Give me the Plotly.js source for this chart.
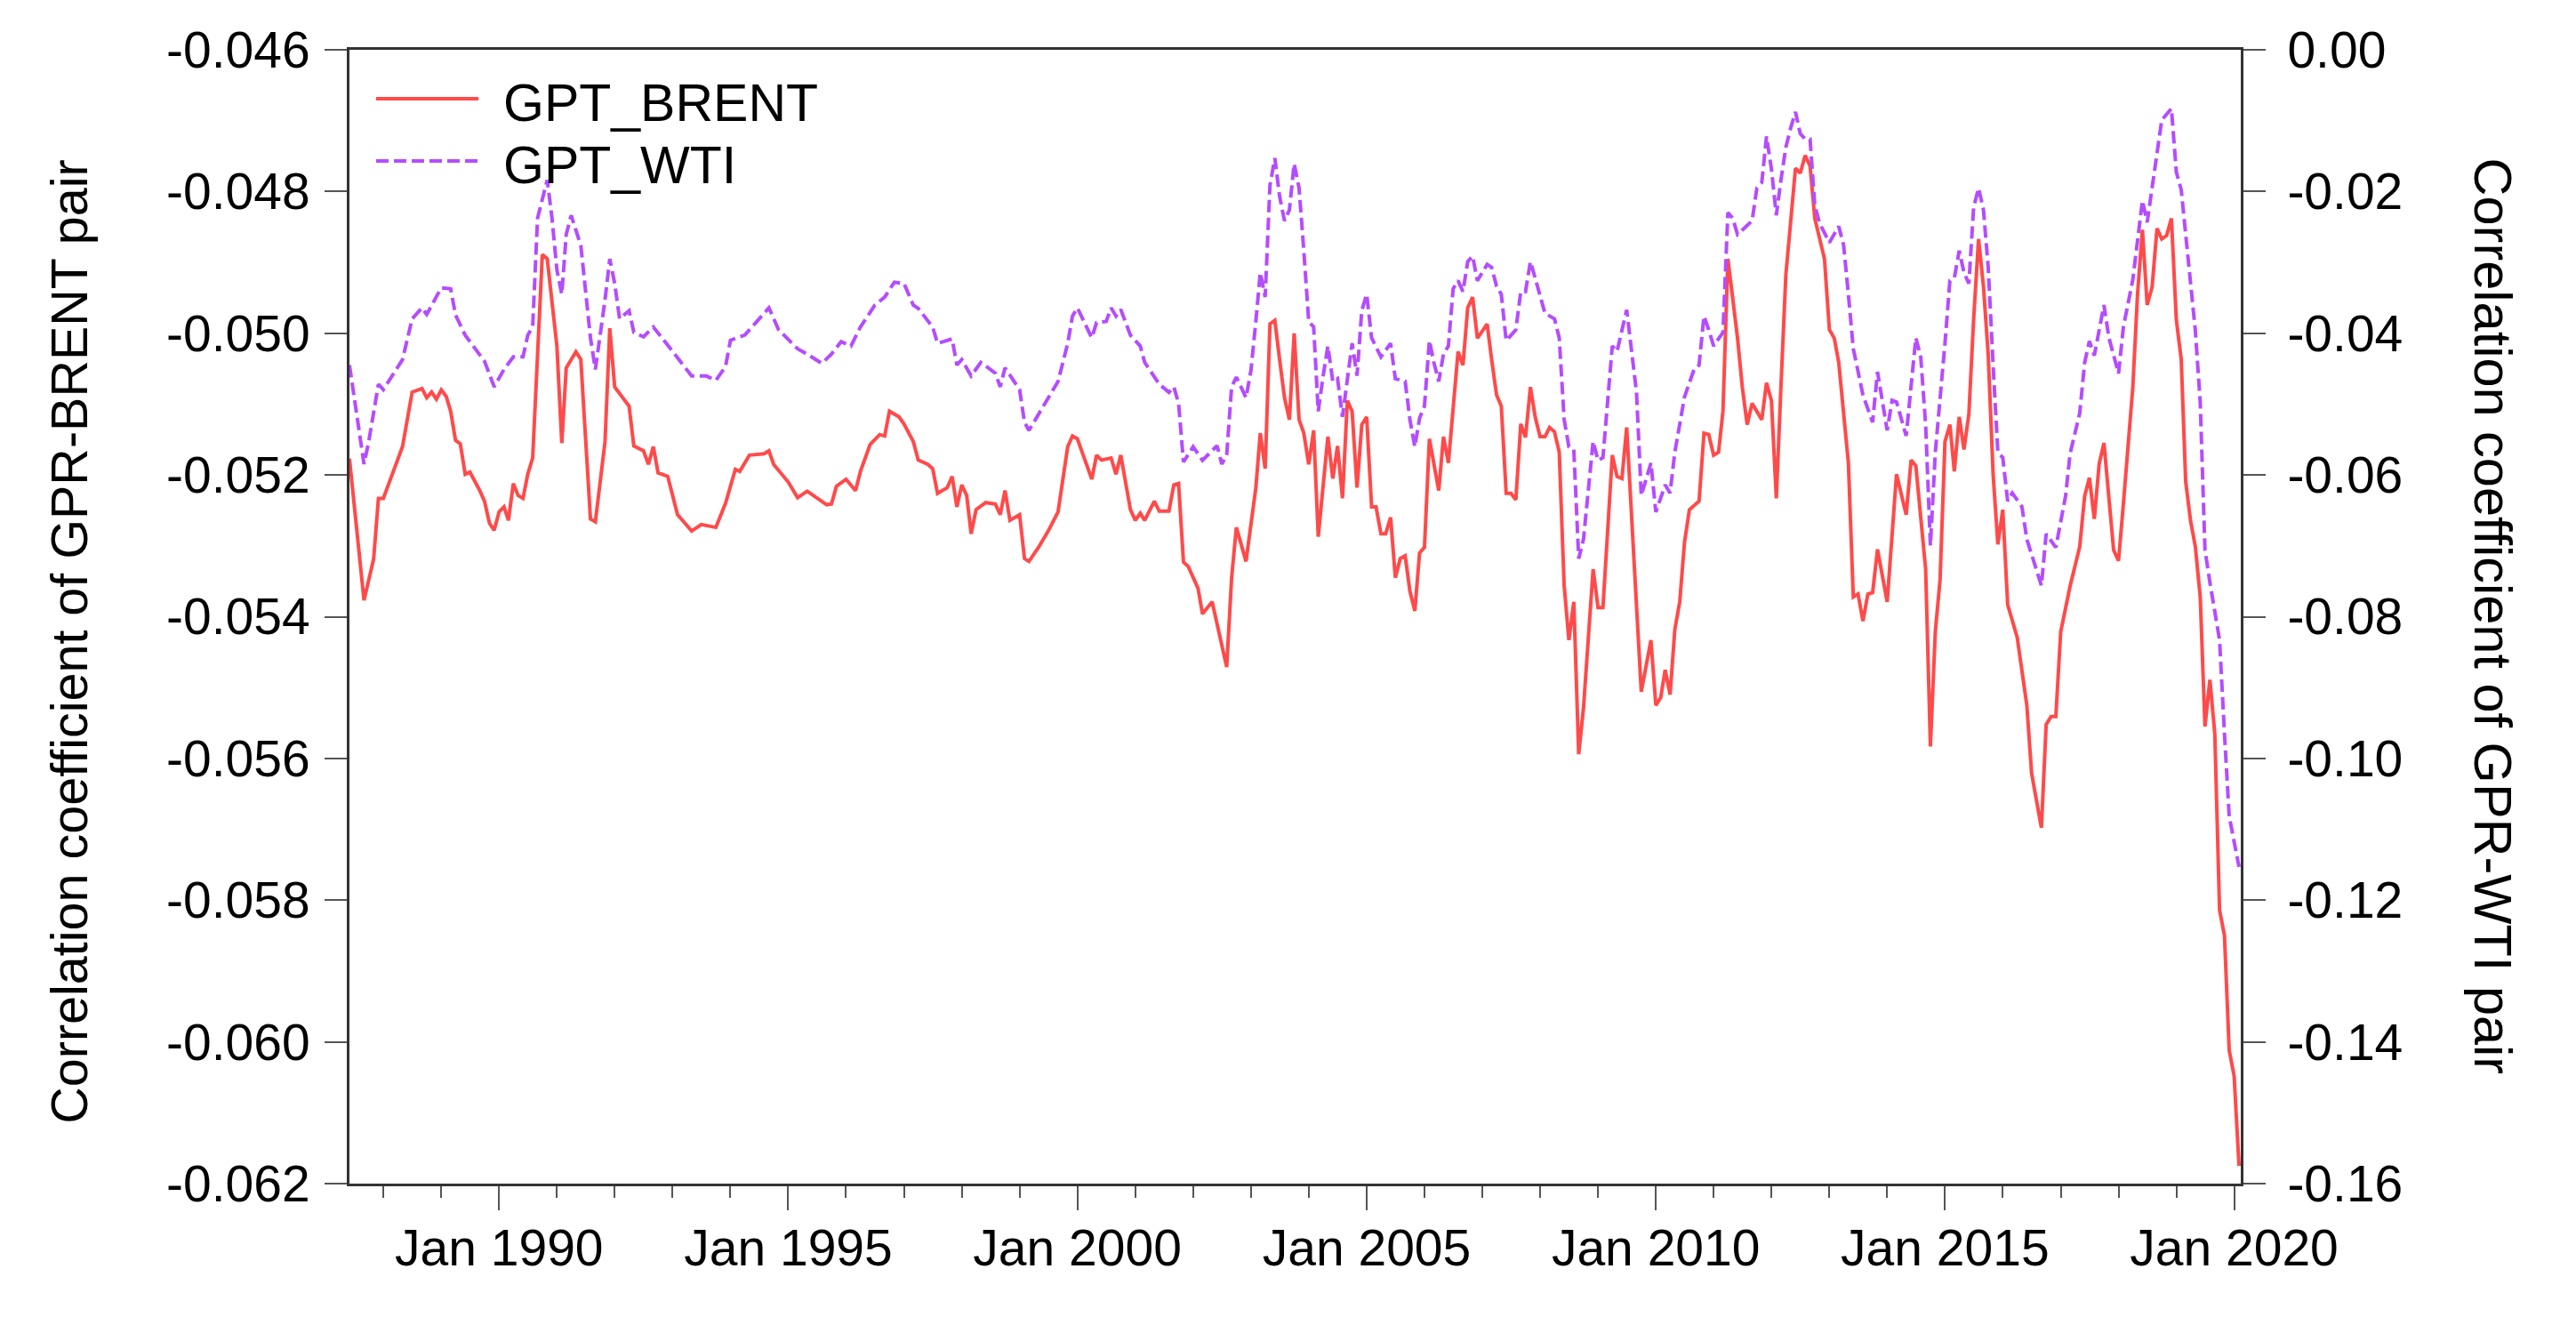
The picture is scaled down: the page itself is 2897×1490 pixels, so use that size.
<!DOCTYPE html>
<html>
<head>
<meta charset="utf-8">
<script src="https://cdn.plot.ly/plotly-3.0.1.min.js"></script>
<style>html,body{margin:0;padding:0;background:#fff;}#chart{width:2897px;height:1490px;}</style>
</head>
<body>
<div id="chart"></div>
<script>
// ---------- DATA ----------
const brentDates = [
'1987-06','1987-09','1987-11','1987-12',
'1988-01','1988-05','1988-07','1988-09','1988-10','1988-11','1988-12',
'1989-01','1989-02','1989-03','1989-04','1989-05','1989-06','1989-07','1989-09','1989-10','1989-11','1989-12',
'1990-01','1990-02','1990-03','1990-04','1990-05','1990-06','1990-07','1990-08','1990-10','1990-11',
'1991-01','1991-02','1991-03','1991-05','1991-06','1991-08','1991-09','1991-11','1991-12',
'1992-01','1992-04','1992-05','1992-07','1992-08','1992-09','1992-10','1992-12',
'1993-02','1993-05','1993-07','1993-10','1993-12',
'1994-02','1994-03','1994-05','1994-08','1994-09','1994-10',
'1995-01','1995-03','1995-05','1995-07','1995-09','1995-10','1995-11',
'1996-01','1996-03','1996-04','1996-06','1996-08','1996-09','1996-10','1996-12',
'1997-01','1997-03','1997-04','1997-06','1997-07','1997-08','1997-10','1997-11','1997-12',
'1998-01','1998-02','1998-03','1998-04','1998-06','1998-08','1998-09','1998-10','1998-11',
'1999-01','1999-02','1999-03','1999-05','1999-07','1999-09','1999-11','1999-12',
'2000-01','2000-04','2000-05','2000-06','2000-08','2000-09','2000-10','2000-12',
'2001-01','2001-02','2001-03','2001-05','2001-06','2001-08','2001-09','2001-10','2001-11','2001-12',
'2002-02','2002-03','2002-05','2002-07','2002-08','2002-09','2002-10','2002-12',
'2003-02','2003-03','2003-04','2003-05','2003-06','2003-07','2003-08','2003-09','2003-10','2003-11','2003-12',
'2004-01','2004-02','2004-03','2004-05','2004-06','2004-07','2004-08','2004-09','2004-10','2004-11','2004-12',
'2005-01','2005-02','2005-03','2005-04','2005-05','2005-06','2005-07','2005-08','2005-09','2005-10','2005-11','2005-12',
'2006-01','2006-02','2006-04','2006-05','2006-06','2006-08','2006-09','2006-10','2006-11','2006-12',
'2007-02','2007-03','2007-04','2007-05','2007-06','2007-07','2007-08','2007-09','2007-10','2007-11','2007-12',
'2008-01','2008-02','2008-03','2008-04','2008-05','2008-06','2008-07','2008-08','2008-09','2008-10','2008-12',
'2009-01','2009-02','2009-04','2009-05','2009-06','2009-07','2009-09','2009-10','2009-12',
'2010-01','2010-02','2010-03','2010-04','2010-05','2010-06','2010-07','2010-08','2010-10','2010-11','2010-12',
'2011-01','2011-02','2011-03','2011-04','2011-06','2011-07','2011-08','2011-09','2011-11','2011-12',
'2012-01','2012-02','2012-03','2012-04','2012-06','2012-07','2012-08','2012-09','2012-10','2012-12',
'2013-01','2013-02','2013-03','2013-05','2013-06','2013-07','2013-08','2013-09','2013-10','2013-11',
'2014-01','2014-02','2014-03','2014-05','2014-06','2014-07','2014-09','2014-10','2014-11','2014-12',
'2015-01','2015-02','2015-03','2015-04','2015-05','2015-06','2015-07','2015-08','2015-09','2015-10','2015-11','2015-12',
'2016-01','2016-02','2016-04','2016-06','2016-07','2016-09','2016-10','2016-11','2016-12',
'2017-01','2017-03','2017-05','2017-06','2017-07','2017-08','2017-09','2017-10','2017-12',
'2018-01','2018-02','2018-04','2018-05','2018-06','2018-07','2018-08','2018-09','2018-10','2018-11','2018-12',
'2019-01','2019-02','2019-03','2019-04','2019-05','2019-06','2019-07','2019-08','2019-09','2019-10','2019-11','2019-12',
'2020-01','2020-02'
];
const brentValues = [
-0.05177,-0.05377,-0.05318,-0.05233,
-0.05233,-0.05160,-0.05083,-0.05078,-0.05091,-0.05083,-0.05093,
-0.05080,-0.05089,-0.05110,-0.05151,-0.05156,-0.05199,-0.05196,-0.05222,-0.05237,-0.05268,-0.05278,
-0.05252,-0.05245,-0.05264,-0.05212,-0.05229,-0.05233,-0.05199,-0.05176,-0.04889,-0.04895,
-0.05018,-0.05155,-0.05049,-0.05026,-0.05037,-0.05262,-0.05266,-0.05153,-0.04993,
-0.05076,-0.05103,-0.05159,-0.05166,-0.05185,-0.05160,-0.05197,-0.05202,
-0.05256,-0.05279,-0.05270,-0.05274,-0.05240,
-0.05192,-0.05195,-0.05172,-0.05170,-0.05166,-0.05185,
-0.05210,-0.05232,-0.05223,-0.05233,-0.05242,-0.05241,-0.05216,
-0.05206,-0.05222,-0.05195,-0.05157,-0.05143,-0.05145,-0.05110,-0.05118,
-0.05128,-0.05153,-0.05179,-0.05185,-0.05191,-0.05226,-0.05218,-0.05202,-0.05245,
-0.05214,-0.05229,-0.05283,-0.05249,-0.05239,-0.05241,-0.05256,-0.05222,-0.05264,
-0.05256,-0.05318,-0.05322,-0.05302,-0.05279,-0.05252,-0.05160,-0.05145,
-0.05149,-0.05206,-0.05172,-0.05179,-0.05176,-0.05199,-0.05172,-0.05249,
-0.05264,-0.05254,-0.05264,-0.05237,-0.05251,-0.05251,-0.05214,-0.05212,-0.05323,-0.05329,
-0.05360,-0.05396,-0.05379,-0.05437,-0.05471,-0.05345,-0.05274,-0.05322,
-0.05218,-0.05141,-0.05191,-0.04987,-0.04982,-0.05037,-0.05091,-0.05122,-0.05000,-0.05122,-0.05141,
-0.05185,-0.05137,-0.05287,-0.05146,-0.05205,-0.05159,-0.05233,-0.05095,-0.05110,-0.05218,-0.05129,
-0.05118,-0.05245,-0.05245,-0.05283,-0.05283,-0.05260,-0.05345,-0.05318,-0.05314,-0.05364,-0.05392,-0.05310,
-0.05302,-0.05149,-0.05222,-0.05146,-0.05183,-0.05026,-0.05045,-0.04964,-0.04949,-0.05007,
-0.04987,-0.05037,-0.05087,-0.05103,-0.05226,-0.05226,-0.05235,-0.05128,-0.05147,-0.05076,-0.05118,
-0.05146,-0.05146,-0.05133,-0.05139,-0.05168,-0.05356,-0.05433,-0.05379,-0.05594,-0.05529,-0.05333,
-0.05387,-0.05387,-0.05172,-0.05202,-0.05205,-0.05133,-0.05383,-0.05506,-0.05433,
-0.05525,-0.05514,-0.05475,-0.05510,-0.05418,-0.05379,-0.05295,-0.05249,-0.05237,-0.05141,-0.05143,
-0.05172,-0.05168,-0.05110,-0.04895,-0.05007,-0.05076,-0.05129,-0.05099,-0.05122,-0.05070,
-0.05095,-0.05233,-0.05076,-0.04918,-0.04767,-0.04774,-0.04749,-0.04764,-0.04838,-0.04895,
-0.04995,-0.05007,-0.05041,-0.05183,-0.05372,-0.05368,-0.05406,-0.05368,-0.05366,-0.05305,
-0.05379,-0.05279,-0.05199,-0.05256,-0.05179,-0.05187,-0.05333,-0.05583,-0.05421,-0.05348,
-0.05153,-0.05129,-0.05195,-0.05118,-0.05164,-0.05114,-0.04980,-0.04867,-0.04934,-0.05030,-0.05199,-0.05298,
-0.05249,-0.05383,-0.05429,-0.05525,-0.05621,-0.05698,-0.05552,-0.05541,-0.05541,
-0.05421,-0.05357,-0.05301,-0.05230,-0.05204,-0.05262,-0.05184,-0.05155,-0.05306,
-0.05321,-0.05240,-0.05077,-0.04945,-0.04854,-0.04960,-0.04935,-0.04852,-0.04867,-0.04862,-0.04838,
-0.04981,-0.05037,-0.05209,-0.05265,-0.05301,-0.05372,-0.05555,-0.05489,-0.05565,-0.05814,-0.05850,-0.06012,
-0.06048,-0.06175
];

const wtiDates = [
'1987-06','1987-09','1987-10','1987-12',
'1988-01','1988-05','1988-07','1988-09','1988-10',
'1989-01','1989-03','1989-04','1989-06','1989-10','1989-12',
'1990-02','1990-04','1990-06','1990-07','1990-08','1990-09','1990-11','1990-12',
'1991-01','1991-02','1991-03','1991-04','1991-06','1991-08','1991-09','1991-11','1991-12',
'1992-01','1992-02','1992-04','1992-05','1992-07','1992-09',
'1993-01','1993-05','1993-08','1993-10','1993-12',
'1994-01','1994-04','1994-07','1994-09','1994-11',
'1995-03','1995-05','1995-08','1995-10','1995-12',
'1996-02','1996-04','1996-07','1996-09','1996-11',
'1997-01','1997-03','1997-04','1997-07','1997-08','1997-11','1997-12',
'1998-01','1998-03','1998-05','1998-08','1998-09','1998-10',
'1999-01','1999-02','1999-03','1999-05','1999-09','1999-11','1999-12',
'2000-01','2000-04','2000-05','2000-07','2000-08','2000-09','2000-10','2000-12',
'2001-02','2001-03','2001-06','2001-08','2001-09','2001-10','2001-11',
'2002-01','2002-03','2002-06','2002-07','2002-08','2002-09','2002-10','2002-12',
'2003-01','2003-02','2003-03','2003-04','2003-05','2003-06','2003-07','2003-08','2003-09','2003-10','2003-11','2003-12',
'2004-01','2004-02','2004-03','2004-04','2004-05','2004-06','2004-07','2004-08','2004-10','2004-11','2004-12',
'2005-01','2005-02','2005-04','2005-06','2005-07','2005-09','2005-10','2005-11','2005-12',
'2006-01','2006-02','2006-03','2006-04','2006-05','2006-06','2006-07','2006-08','2006-09','2006-10','2006-11','2006-12',
'2007-02','2007-03','2007-04','2007-05','2007-06','2007-08','2007-09','2007-10','2007-11','2007-12',
'2008-02','2008-04','2008-05','2008-06','2008-07','2008-08','2008-09','2008-10','2008-12',
'2009-01','2009-02','2009-04','2009-05','2009-07','2009-09','2009-10','2009-12',
'2010-01','2010-03','2010-04','2010-05','2010-07','2010-09','2010-10','2010-11','2010-12',
'2011-01','2011-03','2011-04','2011-05','2011-06','2011-09','2011-10','2011-11','2011-12',
'2012-01','2012-02','2012-03','2012-04','2012-05','2012-06','2012-07','2012-08','2012-09','2012-10','2012-11',
'2013-01','2013-03','2013-04','2013-05','2013-06','2013-08','2013-10','2013-11','2013-12',
'2014-01','2014-02','2014-03','2014-05','2014-07','2014-08','2014-09','2014-10','2014-11',
'2015-01','2015-02','2015-03','2015-04','2015-05','2015-06','2015-07','2015-08','2015-09','2015-10','2015-11','2015-12',
'2016-01','2016-02','2016-03','2016-05','2016-06','2016-08','2016-09','2016-10','2016-12',
'2017-02','2017-03','2017-05','2017-06','2017-07','2017-08','2017-10','2017-11',
'2018-01','2018-02','2018-04','2018-06','2018-07','2018-09','2018-10','2018-12',
'2019-01','2019-02','2019-04','2019-05','2019-06','2019-07','2019-08','2019-10','2019-11','2019-12',
'2020-02'
];
const wtiValues = [
-0.04449,-0.05847,-0.05525,-0.04718,
-0.04795,-0.04372,-0.03796,-0.03642,-0.03734,
-0.03358,-0.03373,-0.03742,-0.04027,-0.04395,-0.04756,
-0.04510,-0.04334,-0.04334,-0.04027,-0.03911,-0.02375,-0.01837,-0.02375,
-0.03104,-0.03450,-0.02605,-0.02336,-0.02759,-0.04065,-0.04510,-0.03527,-0.02951,
-0.03297,-0.03796,-0.03681,-0.03988,-0.04050,-0.03911,
-0.04257,-0.04603,-0.04603,-0.04664,-0.04470,
-0.04100,-0.04027,-0.03796,-0.03642,-0.03950,
-0.04219,-0.04295,-0.04426,-0.04295,-0.04119,
-0.04180,-0.03911,-0.03604,-0.03489,-0.03281,
-0.03297,-0.03604,-0.03650,-0.03911,-0.04142,-0.04080,-0.04449,
-0.04372,-0.04603,-0.04411,-0.04564,-0.04756,-0.04488,
-0.04795,-0.05256,-0.05371,-0.05140,-0.04680,-0.04142,-0.03758,
-0.03642,-0.04065,-0.03850,-0.03834,-0.03642,-0.03758,-0.03665,-0.04027,
-0.04180,-0.04411,-0.04718,-0.04833,-0.04756,-0.04987,-0.05817,
-0.05602,-0.05794,-0.05586,-0.05847,-0.05717,-0.04756,-0.04618,-0.04910,
-0.04526,-0.03834,-0.03143,-0.03489,-0.01914,-0.01529,-0.02067,-0.02413,-0.02259,-0.01606,-0.01952,-0.02836,
-0.03834,-0.03911,-0.05102,-0.04603,-0.04180,-0.04680,-0.04641,-0.05179,-0.04142,-0.04600,-0.03681,
-0.03450,-0.04065,-0.04334,-0.04142,-0.04641,-0.04680,-0.05217,-0.05602,-0.05200,
-0.05025,-0.04103,-0.04411,-0.04680,-0.04295,-0.04180,-0.03373,-0.03258,-0.03412,-0.02989,-0.02912,-0.03258,
-0.03028,-0.03070,-0.03335,-0.03450,-0.04103,-0.03950,-0.03412,-0.03412,-0.02989,-0.03220,
-0.03719,-0.03796,-0.04065,-0.05217,-0.05602,-0.05640,-0.07180,-0.06908,-0.05525,
-0.05794,-0.05755,-0.04180,-0.04257,-0.03670,-0.04833,-0.06290,-0.05832,
-0.06524,-0.06139,-0.06255,-0.05678,-0.04900,-0.04500,-0.04450,-0.03758,-0.03950,
-0.04180,-0.03988,-0.02298,-0.02375,-0.02605,-0.02413,-0.01952,-0.01875,-0.01222,
-0.01683,-0.02336,-0.01837,-0.01376,-0.01107,-0.00876,-0.01184,-0.01260,-0.01260,-0.02200,-0.02450,
-0.02720,-0.02490,-0.02759,-0.03450,-0.04218,-0.04872,-0.05256,-0.04545,-0.04987,
-0.05371,-0.04948,-0.04971,-0.05448,-0.04065,-0.04334,-0.05294,-0.07000,-0.05678,
-0.04142,-0.03258,-0.03220,-0.02835,-0.03143,-0.03300,-0.02221,-0.01952,-0.02259,-0.03066,-0.04449,-0.05678,
-0.05755,-0.06370,-0.06255,-0.06447,-0.06908,-0.07369,-0.07561,-0.06831,-0.07023,
-0.06293,-0.05700,-0.05127,-0.04416,-0.04111,-0.04314,-0.03603,-0.04060,
-0.04568,-0.03908,-0.03247,-0.02129,-0.02434,-0.01418,-0.00991,-0.00828,
-0.01723,-0.01977,-0.03247,-0.03959,-0.04975,-0.07058,-0.07515,-0.08328,-0.09650,-0.10818,
-0.11530
];

// series names and tick labels
const seriesNames = ['GPT_BRENT', 'GPT_WTI'];
const xTickVals = ['1990-01-01','1995-01-01','2000-01-01','2005-01-01','2010-01-01','2015-01-01','2020-01-01'];
const xTickText = ['Jan 1990','Jan 1995','Jan 2000','Jan 2005','Jan 2010','Jan 2015','Jan 2020'];
const yLeftTickVals = [-0.062,-0.060,-0.058,-0.056,-0.054,-0.052,-0.050,-0.048,-0.046];
const yLeftTickText = ['-0.062','-0.060','-0.058','-0.056','-0.054','-0.052','-0.050','-0.048','-0.046'];
const yRightTickVals = [-0.16,-0.14,-0.12,-0.10,-0.08,-0.06,-0.04,-0.02,0.00];
const yRightTickText = ['-0.16','-0.14','-0.12','-0.10','-0.08','-0.06','-0.04','-0.02','0.00'];

// ---------- CHART ----------
const FONT = 'Liberation Sans, Arial, Helvetica, sans-serif';
const AX = '#333333';
const RED = '#FF4A4A';
const PURPLE = '#B44CFF';
const WTI_DASH = '14px,6px';

const traces = [
  {x: brentDates, y: brentValues, type: 'scatter', mode: 'lines', name: seriesNames[0],
   line: {color: RED, width: 4}, yaxis: 'y', showlegend: false},
  {x: wtiDates, y: wtiValues, type: 'scatter', mode: 'lines', name: seriesNames[1],
   line: {color: PURPLE, width: 4, dash: WTI_DASH}, yaxis: 'y2', showlegend: false}
];

// legend drawn as key lines + labels (long key lines as in the original)
const legY = [0.9569, 0.9020];
const legendShapes = [
  {type: 'line', xref: 'paper', yref: 'paper', x0: 0.0141, x1: 0.0682, y0: legY[0], y1: legY[0],
   line: {color: RED, width: 4}},
  {type: 'line', xref: 'paper', yref: 'paper', x0: 0.0141, x1: 0.0682, y0: legY[1], y1: legY[1],
   line: {color: PURPLE, width: 4, dash: WTI_DASH}}
];
const legendLabels = seriesNames.map((n, i) => ({
  text: n, xref: 'paper', yref: 'paper', x: 0.0804, y: legY[i] - 0.004, xanchor: 'left', yanchor: 'middle',
  showarrow: false, font: {family: FONT, size: 59, color: '#000'}
}));

const layout = {
  width: 2897, height: 1490,
  margin: {l: 393, r: 377, t: 56, b: 159, pad: 0},
  paper_bgcolor: '#ffffff', plot_bgcolor: '#ffffff',
  font: {family: FONT, size: 57, color: '#000'},
  showlegend: false,
  xaxis: {
    type: 'date', range: ['1987-06-01', '2020-02-12'],
    tickmode: 'array', tickvals: xTickVals, ticktext: xTickText,
    ticks: 'outside', ticklen: 27, tickwidth: 2, tickcolor: '#555',
    ticklabelstandoff: -6,
    minor: {ticks: 'outside', ticklen: 13, tickwidth: 2, tickcolor: '#555', dtick: 'M12', tick0: '1988-01-01', showgrid: false},
    showline: true, linecolor: AX, linewidth: 3, mirror: true,
    showgrid: false, zeroline: false,
    tickfont: {family: FONT, size: 57, color: '#000'}
  },
  yaxis: {
    range: [-0.062, -0.046], tickmode: 'array', tickvals: yLeftTickVals, ticktext: yLeftTickText,
    ticks: 'outside', ticklen: 25, tickwidth: 2, tickcolor: '#555',
    ticklabelstandoff: 5,
    showline: true, linecolor: AX, linewidth: 3,
    showgrid: false, zeroline: false,
    tickfont: {family: FONT, size: 57, color: '#000'}
  },
  yaxis2: {
    overlaying: 'y', side: 'right',
    range: [-0.16, 0], tickmode: 'array', tickvals: yRightTickVals, ticktext: yRightTickText,
    ticks: 'outside', ticklen: 25, tickwidth: 2, tickcolor: '#555',
    ticklabelstandoff: 13,
    showline: true, linecolor: AX, linewidth: 3,
    showgrid: false, zeroline: false,
    tickfont: {family: FONT, size: 57, color: '#000'}
  },
  shapes: legendShapes,
  annotations: [
    {text: 'Correlation coefficient of GPR-BRENT pair', xref: 'paper', yref: 'paper',
     x: -0.1485, y: 0.478, xanchor: 'center', yanchor: 'middle', textangle: -90, showarrow: false,
     font: {family: FONT, size: 57.5, color: '#000'}},
    {text: 'Correlation coefficient of GPR-WTI pair', xref: 'paper', yref: 'paper',
     x: 1.1335, y: 0.5, xanchor: 'center', yanchor: 'middle', textangle: 90, showarrow: false,
     font: {family: FONT, size: 59.5, color: '#000'}}
  ].concat(legendLabels)
};

Plotly.newPlot('chart', traces, layout, {staticPlot: true, displayModeBar: false});
</script>
</body>
</html>
